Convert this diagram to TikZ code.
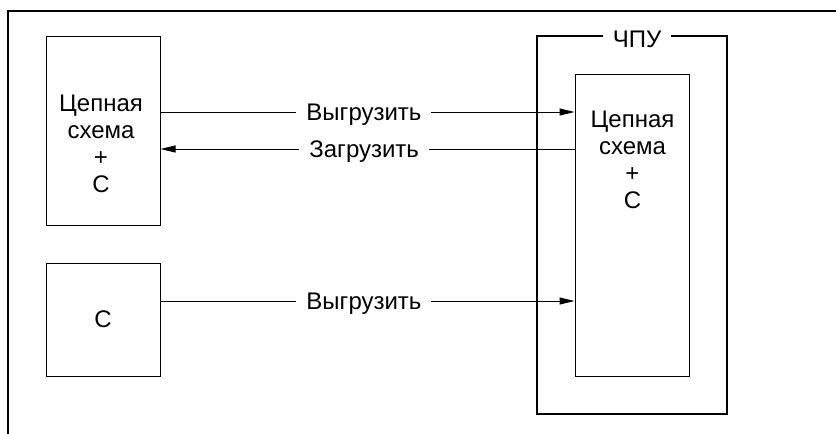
\documentclass[tikz,border=0pt]{standalone}
\usepackage{fontspec}
\setmainfont{Liberation Sans}
\usetikzlibrary{arrows.meta}
\begin{document}
\begin{tikzpicture}[x=1pt,y=-1pt,
  box/.style={draw,line width=1pt,inner sep=0pt},
  cncbox/.style={draw,line width=2.8pt,inner sep=0pt},
  txt/.style={align=center,inner sep=0pt,font=\fontsize{24}{27}\selectfont},
  lbl/.style={fill=white,inner xsep=10pt,inner ysep=0pt,text height=17pt,text depth=0pt,font=\fontsize{24}{27}\selectfont},
  arr/.style={line width=1pt,-{Triangle[length=15pt,width=7pt]}}]
\useasboundingbox (0,0) rectangle (836,434);
% outer frame
\draw[line width=2.8pt] (8,434) -- (8,11) -- (836,11);
% boxes
\node[box,minimum width=114,minimum height=189] (ladder) at (103,130.5) {};
\node[box,minimum width=114,minimum height=113] (cbox) at (103,319.5) {};
\node[cncbox,minimum width=190,minimum height=378] (cnc) at (632,225) {};
\node[box,minimum width=114,minimum height=302] (inner) at (632,225) {};
\node[lbl] (cnclbl) at (637,38.5) {ЧПУ};
% texts
\node[txt,anchor=base] (t1) at (101,192) {Цепная\\схема\\+\\C};
\node[txt,anchor=base] (t2) at (632.5,208) {Цепная\\схема\\+\\C};
\node[txt] (t3) at (cbox) {C};
% connectors
\draw[arr] (ladder.east |- 0,112) -- node[lbl,pos=0.4915] (up1) {Выгрузить} (inner.west |- 0,112);
\draw[arr] (inner.west |- 0,149) -- node[lbl,pos=0.508] (down) {Загрузить} (ladder.east |- 0,149);
\draw[arr] (cbox.east |- 0,301) -- node[lbl,pos=0.4915] (up2) {Выгрузить} (inner.west |- 0,301);
\end{tikzpicture}
\end{document}
